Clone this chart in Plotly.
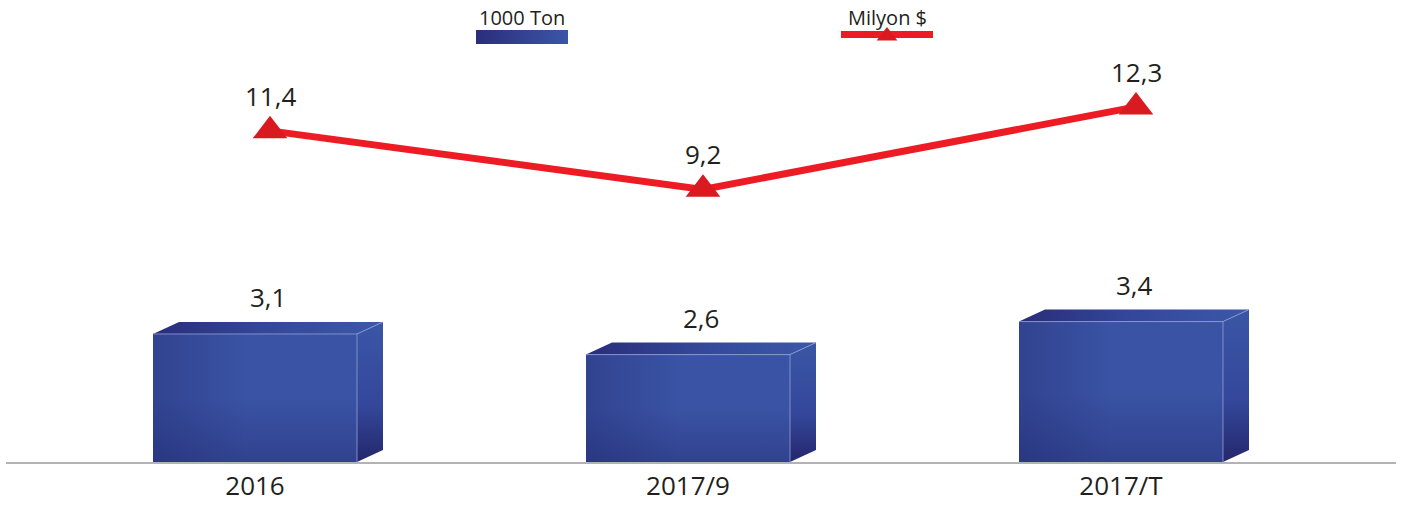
import plotly.graph_objects as go

# ---- data ----
categories = ["2016", "2017/9", "2017/T"]
tonnes_k = [3.1, 2.6, 3.4]          # 1000 Ton (bars)
usd_million = [11.4, 9.2, 12.3]      # Milyon $ (line)
legend_labels = ["1000 Ton", "Milyon $"]

# ---- canvas / geometry ----
W, H = 1402, 508
ML, MR, MT, MB = 6, 6, 0, 46
PLOT_W, PLOT_H = W - ML - MR, H - MT - MB

PX_PER_CAT = 433.0          # horizontal pixels between categories
FIRST_CAT_PX = 255.0        # pixel x of first category centre
XR = [(ML - FIRST_CAT_PX) / PX_PER_CAT, (W - MR - FIRST_CAT_PX) / PX_PER_CAT]

BAR_PX_PER_UNIT = 41.3
YR = [0, PLOT_H / BAR_PX_PER_UNIT]
Y2R = [-1.05, 16.32]

BAR_W = 204 / PX_PER_CAT
DX = 26 / PX_PER_CAT                 # depth of the 3D box, x units
DY = 12 / BAR_PX_PER_UNIT            # depth of the 3D box, y units
LINE_X_OFF = 15 / PX_PER_CAT

TEXT = "#231f20"
FONT = "Open Sans"
FRONT = "#3a53a4"
RED = "#ed1c24"
RED_MARK = "#d91a21"


def fmt(v):
    return f"{v:.1f}".replace(".", ",")


def px_to_x(px):
    return XR[0] + (px - ML) / PLOT_W * (XR[1] - XR[0])


def px_to_y(py):
    return YR[0] + (PLOT_H - (py - MT)) / PLOT_H * (YR[1] - YR[0])


fig = go.Figure()

# front faces
xs = list(range(len(categories)))
fig.add_trace(go.Bar(
    x=xs, y=tonnes_k, width=BAR_W, marker=dict(color=FRONT, line=dict(width=0)),
    hoverinfo="skip", showlegend=False,
))

shade = "rgba(28,30,98,{a})"
for i, v in enumerate(tonnes_k):
    xl, xr = i - BAR_W / 2, i + BAR_W / 2
    # darkening towards the bottom of the front face
    fig.add_trace(go.Scatter(
        x=[xl, xr, xr, xl, xl], y=[0, 0, v, v, 0], mode="lines", line=dict(width=0),
        fill="toself",
        fillgradient=dict(type="vertical", start=0, stop=v,
                          colorscale=[[0, shade.format(a=0.32)], [0.5, shade.format(a=0)],
                                      [1, shade.format(a=0)]]),
        hoverinfo="skip", showlegend=False,
    ))
    # darkening towards the left of the front face
    fig.add_trace(go.Scatter(
        x=[xl, xr, xr, xl, xl], y=[0, 0, v, v, 0], mode="lines", line=dict(width=0),
        fill="toself",
        fillgradient=dict(type="horizontal", start=xl, stop=xr,
                          colorscale=[[0, shade.format(a=0.3)], [0.45, shade.format(a=0)],
                                      [1, shade.format(a=0)]]),
        hoverinfo="skip", showlegend=False,
    ))
    # top face
    fig.add_trace(go.Scatter(
        x=[xl, xl + DX, xr + DX, xr, xl], y=[v, v + DY, v + DY, v, v],
        mode="lines", line=dict(width=0), fill="toself",
        fillgradient=dict(type="horizontal", start=xl, stop=xr + DX,
                          colorscale=[[0, "#292d79"], [0.5, "#34489b"], [1, "#3c58a8"]]),
        hoverinfo="skip", showlegend=False,
    ))
    # side face
    fig.add_trace(go.Scatter(
        x=[xr, xr + DX, xr + DX, xr, xr], y=[0, DY, v + DY, v, 0],
        mode="lines", line=dict(width=0), fill="toself",
        fillgradient=dict(type="vertical", start=0, stop=v + DY,
                          colorscale=[[0, "#24276c"], [0.4, "#34479a"], [1, "#3b56a6"]]),
        hoverinfo="skip", showlegend=False,
    ))
    # light highlight along the front edges
    fig.add_trace(go.Scatter(
        x=[xl, xr, xr + DX, None, xr, xr], y=[v, v, v + DY, None, v, 0],
        mode="lines", line=dict(width=1, color="rgba(140,155,210,0.85)"),
        hoverinfo="skip", showlegend=False,
    ))

# value labels above the boxes
for i, v in enumerate(tonnes_k):
    fig.add_annotation(x=i + DX / 2, y=v, xref="x", yref="y", yshift=37,
                       text=fmt(v), showarrow=False,
                       font=dict(family=FONT, size=26, color=TEXT))

# line series
lx = [i + LINE_X_OFF for i in xs]
fig.add_trace(go.Scatter(
    x=lx, y=usd_million, yaxis="y2", mode="lines+markers",
    line=dict(color=RED, width=7),
    marker=dict(symbol="triangle-up", size=30, color=RED_MARK),
    hoverinfo="skip", showlegend=False,
))
for x, v in zip(lx, usd_million):
    fig.add_annotation(x=x, y=v, xref="x", yref="y2", yshift=35,
                       text=fmt(v), showarrow=False,
                       font=dict(family=FONT, size=26, color=TEXT))

# custom legend
sw_x0, sw_x1, sw_y0, sw_y1 = px_to_x(476), px_to_x(568), px_to_y(44), px_to_y(30)
fig.add_trace(go.Scatter(
    x=[sw_x0, sw_x1, sw_x1, sw_x0, sw_x0], y=[sw_y0, sw_y0, sw_y1, sw_y1, sw_y0],
    mode="lines", line=dict(width=0), fill="toself",
    fillgradient=dict(type="horizontal", start=sw_x0, stop=sw_x1,
                      colorscale=[[0, "#2a2e7b"], [1, "#3b56a6"]]),
    hoverinfo="skip", showlegend=False,
))
fig.add_trace(go.Scatter(
    x=[px_to_x(841), px_to_x(933)], y=[px_to_y(34.5)] * 2, mode="lines",
    line=dict(color=RED, width=7), hoverinfo="skip", showlegend=False,
))
fig.add_trace(go.Scatter(
    x=[px_to_x(887)], y=[px_to_y(36)], mode="markers",
    marker=dict(symbol="triangle-up", size=18, color=RED_MARK),
    hoverinfo="skip", showlegend=False,
))
for label, cx in zip(legend_labels, [522, 887]):
    fig.add_annotation(x=px_to_x(cx), y=px_to_y(17), xref="x", yref="y",
                       text=label, showarrow=False,
                       font=dict(family=FONT, size=20, color=TEXT))

fig.update_layout(
    width=W, height=H,
    margin=dict(l=ML, r=MR, t=MT, b=MB, pad=0),
    paper_bgcolor="white", plot_bgcolor="white",
    xaxis=dict(range=XR, tickvals=xs, ticktext=categories, showgrid=False,
               zeroline=False, showline=True, linecolor="#b3b3b3", linewidth=2,
               ticks="", tickfont=dict(family=FONT, size=26, color=TEXT),
               fixedrange=True),
    yaxis=dict(range=YR, visible=False, showgrid=False, zeroline=False, fixedrange=True),
    yaxis2=dict(range=Y2R, overlaying="y", visible=False, showgrid=False,
                zeroline=False, fixedrange=True),
)

fig.write_html("out.html")
